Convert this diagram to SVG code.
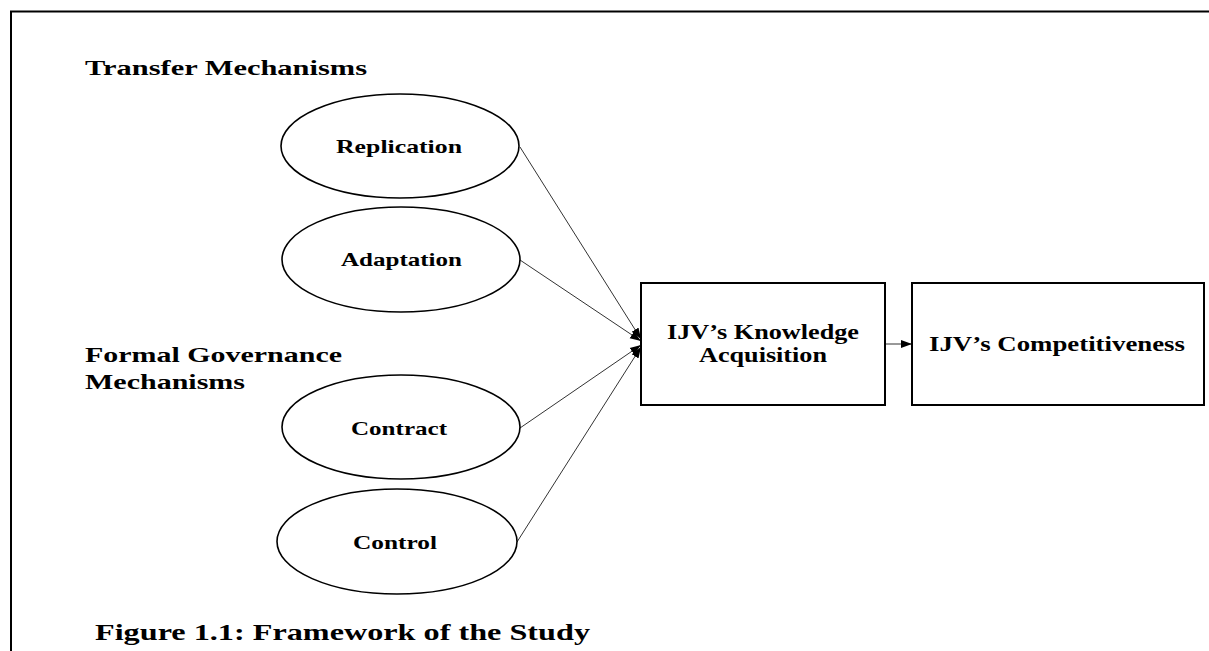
<svg xmlns="http://www.w3.org/2000/svg" width="1209" height="651" viewBox="0 0 1209 651">
<style>
text{font-family:"Liberation Serif","Times New Roman",serif;font-weight:bold;fill:#000}
.lbl{font-size:19px}
.box{font-size:20px}
.hdr{font-size:22px}
.cap{font-size:23px}
.ell{fill:#fff;stroke:#000;stroke-width:1.6}
.rect{fill:#fff;stroke:#000;stroke-width:2}
.con{stroke:#333;stroke-width:1;fill:none}
</style>
<defs>
<marker id="arr" markerUnits="userSpaceOnUse" markerWidth="12" markerHeight="10" refX="11" refY="5" orient="auto">
<path d="M0,1 L11,5 L0,9 Z" fill="#000"/>
</marker>
</defs>
<rect width="1209" height="651" fill="#fff"/>
<g id="frame">
<line x1="10" y1="11.5" x2="1209" y2="11.5" stroke="#000" stroke-width="2"/>
<line x1="11" y1="11" x2="11" y2="651" stroke="#000" stroke-width="2"/>
</g>
<g id="hdr-transfer"><text class="hdr" x="85" y="75" textLength="282" lengthAdjust="spacingAndGlyphs">Transfer  Mechanisms</text></g>
<g id="hdr-formal">
<text class="hdr" x="85" y="362" textLength="257" lengthAdjust="spacingAndGlyphs">Formal Governance</text>
<text class="hdr" x="85" y="389" textLength="160" lengthAdjust="spacingAndGlyphs">Mechanisms</text>
</g>
<g id="connectors">
<line class="con" x1="520" y1="147" x2="641" y2="339" marker-end="url(#arr)"/>
<line class="con" x1="520" y1="260" x2="641" y2="341" marker-end="url(#arr)"/>
<line class="con" x1="520" y1="428" x2="641" y2="345" marker-end="url(#arr)"/>
<line class="con" x1="517" y1="542" x2="641" y2="347" marker-end="url(#arr)"/>
<line class="con" x1="885" y1="344" x2="912" y2="344" marker-end="url(#arr)"/>
</g>
<g id="replication">
<ellipse class="ell" cx="400" cy="146" rx="119" ry="52"/>
<text class="lbl" x="336" y="153" textLength="126" lengthAdjust="spacingAndGlyphs">Replication</text>
</g>
<g id="adaptation">
<ellipse class="ell" cx="401" cy="259.5" rx="119" ry="52.5"/>
<text class="lbl" x="341" y="266" textLength="121" lengthAdjust="spacingAndGlyphs">Adaptation</text>
</g>
<g id="contract">
<ellipse class="ell" cx="401" cy="427" rx="119" ry="52"/>
<text class="lbl" x="351" y="435" textLength="96" lengthAdjust="spacingAndGlyphs">Contract</text>
</g>
<g id="control">
<ellipse class="ell" cx="397" cy="541.5" rx="120" ry="52.5"/>
<text class="lbl" x="353" y="549" textLength="84" lengthAdjust="spacingAndGlyphs">Control</text>
</g>
<g id="knowledge">
<rect class="rect" x="641" y="283" width="244" height="122"/>
<text class="box" x="667" y="339" textLength="192" lengthAdjust="spacingAndGlyphs">IJV’s Knowledge</text>
<text class="box" x="699" y="362" textLength="128" lengthAdjust="spacingAndGlyphs">Acquisition</text>
</g>
<g id="competitiveness">
<rect class="rect" x="912" y="283" width="292" height="122"/>
<text class="box" x="929" y="351" textLength="256" lengthAdjust="spacingAndGlyphs">IJV’s  Competitiveness</text>
</g>
<g id="caption"><text class="cap" x="95" y="640" textLength="495" lengthAdjust="spacingAndGlyphs">Figure 1.1: Framework  of the Study</text></g>
</svg>
